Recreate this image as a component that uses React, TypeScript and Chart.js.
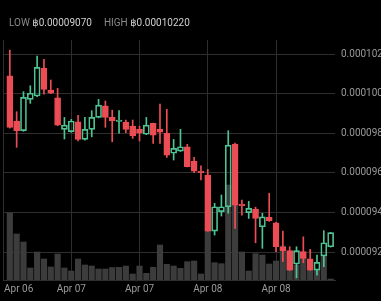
import React, { useEffect, useRef } from 'react';
import { Chart, registerables } from 'chart.js';

Chart.register(...registerables);

// ---- data (prices in satoshi, 1e-8 BTC) ----
const xTickValues = [-1, 9, 19, 29, 39];
const xTickLabels = ['Apr 06', 'Apr 07', 'Apr 07', 'Apr 08', 'Apr 08'];
const priceTicks = [9200, 9400, 9600, 9800, 10000, 10200];

const opens = [
  10090, 9862, 9813, 9971, 9988, 10129, 10018, 9979, 9820, 9808,
  9858, 9769, 9820, 9880, 9939, 9880, 9860, 9857, 9836, 9820,
  9795, 9850, 9821, 9800, 9699, 9710, 9732, 9660, 9609, 9589,
  9306, 9404, 9429, 9745, 9442, 9399, 9417, 9328, 9375, 9348,
  9227, 9207, 9140, 9202, 9166, 9109, 9180, 9227,
];
const highs = [
  10220, 9909, 10010, 10040, 10190, 10173, 10069, 10027, 9880, 9870,
  9890, 9880, 9914, 9971, 9963, 9917, 9914, 9867, 9867, 9836,
  9880, 9852, 9948, 9921, 9769, 9820, 9744, 9678, 9636, 9618,
  9446, 9488, 9813, 9750, 9463, 9456, 9427, 9396, 9497, 9350,
  9306, 9227, 9227, 9277, 9214, 9185, 9308, 9300,
];
const lows = [
  9826, 9729, 9810, 9951, 9985, 9998, 10000, 9838, 9771, 9805,
  9761, 9765, 9782, 9878, 9830, 9757, 9800, 9803, 9774, 9761,
  9793, 9749, 9749, 9678, 9665, 9708, 9630, 9601, 9564, 9305,
  9286, 9382, 9396, 9320, 9387, 9370, 9247, 9219, 9355, 9202,
  9151, 9107, 9070, 9146, 9107, 9084, 9126, 9225,
];
const closes = [
  9830, 9813, 9981, 10002, 10133, 10022, 10002, 9841, 9841, 9862,
  9769, 9820, 9880, 9942, 9880, 9862, 9866, 9820, 9787, 9800,
  9841, 9791, 9805, 9690, 9724, 9732, 9631, 9609, 9601, 9306,
  9429, 9429, 9740, 9437, 9434, 9421, 9370, 9378, 9358, 9227,
  9207, 9109, 9207, 9168, 9109, 9148, 9247, 9298,
];
const volumes = [
  67, 46, 38, 12, 28, 21, 13, 26, 12, 9,
  21, 15, 14, 11, 11, 12.5, 12.7, 14, 6, 14,
  6.7, 12.7, 35, 15.7, 14, 11.7, 18.3, 19, 6, 49,
  17.3, 16.3, 95, 75, 28, 9, 26.3, 25, 16, 19,
  34, 28, 15, 22, 10.7, 10, 25, 1,
];
const lowLabel = '฿0.00009070';
const highLabel = '฿0.00010220';

const UP = '#4fc493';
const DOWN = '#ec4d55';
const VOL = '#3c3c3c';
const GRID = '#2e2e2e';
const TEXT = '#9a9a9a';
const FONT = "Roboto, 'DejaVu Sans', sans-serif";

export default function App() {
  const ref = useRef<HTMLCanvasElement | null>(null);

  useEffect(() => {
    document.body.style.margin = '0';
    document.body.style.background = '#000';
    const canvas = ref.current;
    if (!canvas) return;
    const idx = opens.map((_, i) => i);
    const isUp = idx.map((i) => closes[i] >= opens[i]);
    const colors = isUp.map((u) => (u ? UP : DOWN));

    const xLabelPlugin = {
      id: 'xLabels',
      afterDraw(chart: any) {
        const { ctx, chartArea } = chart;
        const sx = chart.scales.x;
        ctx.save();
        ctx.font = `10px ${FONT}`;
        ctx.fillStyle = TEXT;
        ctx.textBaseline = 'middle';
        xTickValues.forEach((v, k) => {
          const label = xTickLabels[k];
          const px = sx.getPixelForValue(v);
          const w = ctx.measureText(label).width;
          if (px - w / 2 < chartArea.left) {
            ctx.textAlign = 'left';
            ctx.fillText(label, chartArea.left + 1, chartArea.bottom + 9);
          } else {
            ctx.textAlign = 'center';
            ctx.fillText(label, px, chartArea.bottom + 9);
          }
        });
        ctx.restore();
      },
    };

    const chart = new Chart(canvas, {
      type: 'bar',
      data: {
        datasets: [
          {
            label: 'volume',
            yAxisID: 'yv',
            data: volumes.map((v, i) => ({ x: i, y: v })),
            backgroundColor: VOL,
            barThickness: 5.5,
            grouped: false,
            order: 4,
          } as any,
          {
            label: 'lowerWick',
            yAxisID: 'y',
            data: idx.map((i) => ({ x: i, y: [lows[i], Math.min(opens[i], closes[i])] })),
            backgroundColor: colors,
            borderWidth: 0,
            barThickness: 1,
            grouped: false,
            order: 3,
          },
          {
            label: 'upperWick',
            yAxisID: 'y',
            data: idx.map((i) => ({ x: i, y: [Math.max(opens[i], closes[i]), highs[i]] })),
            backgroundColor: colors,
            borderWidth: 0,
            barThickness: 1,
            grouped: false,
            order: 2,
          },
          {
            label: 'body',
            yAxisID: 'y',
            data: idx.map((i) => ({ x: i, y: [opens[i], closes[i]] })),
            backgroundColor: isUp.map((u) => (u ? 'rgba(0,0,0,0)' : DOWN)),
            borderColor: colors,
            borderWidth: 1,
            borderSkipped: false,
            barThickness: 6,
            grouped: false,
            order: 1,
          },
        ] as any,
      },
      options: {
        animation: false,
        responsive: false,
        events: [],
        layout: { padding: { left: 3, top: 40, right: 0, bottom: 21 } },
        plugins: { legend: { display: false }, tooltip: { enabled: false } },
        scales: {
          x: {
            type: 'linear',
            min: -1,
            max: 47.64,
            offset: false,
            grid: { color: GRID, drawTicks: false, offset: false },
            border: { display: true, color: GRID },
            ticks: { display: false },
            afterBuildTicks: (s: any) => {
              s.ticks = xTickValues.map((v) => ({ value: v }));
            },
          },
          y: {
            type: 'linear',
            position: 'right',
            min: 9059,
            max: 10271,
            grid: { color: GRID, drawTicks: false },
            border: { display: false },
            ticks: {
              color: TEXT,
              padding: 6,
              font: { size: 10, family: FONT },
              callback: (v: any) => (Number(v) / 1e8).toFixed(8),
            },
            afterBuildTicks: (s: any) => {
              s.ticks = priceTicks.map((v) => ({ value: v }));
            },
            afterFit: (s: any) => {
              s.width = 46;
            },
          },
          yv: {
            type: 'linear',
            display: false,
            min: 0,
            max: 240,
          },
        } as any,
      },
      plugins: [xLabelPlugin],
    });
    return () => chart.destroy();
  }, []);

  return (
    <div style={{ position: 'relative', width: 381, height: 301, background: '#000', overflow: 'hidden' }}>
      <canvas ref={ref} width={381} height={301} style={{ display: 'block', width: 381, height: 301 }} />
      <div
        style={{
          position: 'absolute',
          left: 9,
          top: 17,
          fontSize: 10,
          lineHeight: '12px',
          fontFamily: FONT,
          color: '#8a8a8a',
          whiteSpace: 'nowrap',
        }}
      >
        <span>LOW </span>
        <span style={{ color: '#cfcfcf' }}>{lowLabel}</span>
        <span style={{ marginLeft: 12 }}>HIGH </span>
        <span style={{ color: '#cfcfcf' }}>{highLabel}</span>
      </div>
    </div>
  );
}
